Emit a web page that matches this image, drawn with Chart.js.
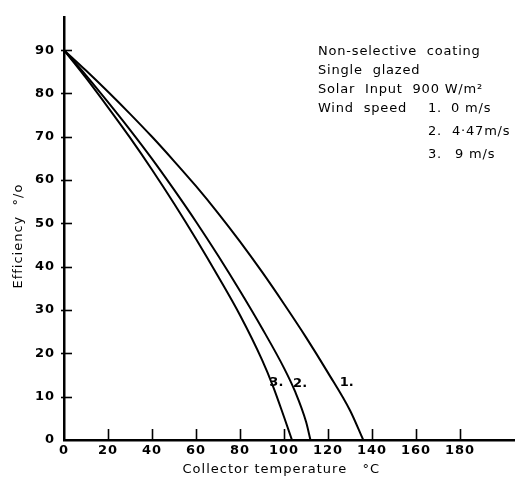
<!DOCTYPE html>
<html>
<head>
<meta charset="utf-8">
<script src="https://cdn.jsdelivr.net/npm/chart.js@4/dist/chart.umd.min.js"></script>
<style>
  html, body { margin: 0; padding: 0; background: #fff; }
  #wrap { width: 515px; height: 477px; }
</style>
</head>
<body>
<div id="wrap"><canvas id="effChart" width="515" height="477"></canvas></div>
<script>
// Efficiency vs collector temperature
const temp1 = [0, 10, 20, 30, 40, 50, 60, 70, 80, 90, 100, 110, 120, 130, 136];
const eff1  = [90, 85.3, 80.4, 75.3, 70, 64.4, 58.6, 52.4, 45.8, 38.8, 31.4, 23.7, 15.5, 6.8, 0];

const temp2 = [0, 10, 20, 30, 40, 50, 60, 70, 80, 90, 100, 105, 110, 112];
const eff2  = [90, 84.2, 78, 71.6, 64.9, 57.8, 50.4, 42.6, 34.4, 25.8, 16.6, 11.2, 4.2, 0];

const temp3 = [0, 10, 20, 30, 40, 50, 60, 70, 80, 90, 95, 100, 103.6];
const eff3  = [90, 83.6, 76.8, 69.8, 62.4, 54.6, 46.4, 37.8, 28.8, 18.5, 12.4, 5.3, 0];

const xTicks = [0, 20, 40, 60, 80, 100, 120, 140, 160, 180];
const yTicks = [0, 10, 20, 30, 40, 50, 60, 70, 80, 90];

// curve numbers written beside the lines
const curveLabels = ['3.', '2.', '1.'];
const curveLabelX = [96.5, 107.3, 128.5];
const curveLabelY = [13.2, 13.0, 13.2];

const noteLines = [
  'Non-selective  coating',
  'Single  glazed',
  'Solar  Input  900 W/m\u00B2',
  'Wind  speed'
];
const windNums = ['1.', '2.', '3.'];
const windVals = ['0 m/s', '4\u00B747m/s', '9 m/s'];

const toPoints = (xs, ys) => xs.map((x, i) => ({ x: x, y: ys[i] }));

const lineStyle = {
  borderColor: '#000',
  borderWidth: 2,
  pointRadius: 0,
  fill: false,
  showLine: true,
  cubicInterpolationMode: 'monotone'
};

const FONT = '"DejaVu Sans", sans-serif';

// wider letter spacing, like the lettering stencil in the original
const spacing = {
  id: 'spacing',
  beforeDraw(chart) {
    chart.ctx.letterSpacing = '1px';
  }
};

// ticks pointing into the plot, plus the text block and curve numbers
const decorations = {
  id: 'decorations',
  afterDraw(chart) {
    const ctx = chart.ctx;
    const xs = chart.scales.x;
    const ys = chart.scales.y;
    const area = chart.chartArea;

    ctx.save();
    ctx.strokeStyle = '#000';
    ctx.lineWidth = 1.6;
    yTicks.slice(1).forEach(v => {
      const py = Math.round(ys.getPixelForValue(v)) + 0.5;
      ctx.beginPath();
      ctx.moveTo(area.left - 3, py);
      ctx.lineTo(area.left + 8, py);
      ctx.stroke();
    });
    xTicks.slice(1).forEach(v => {
      const px = Math.round(xs.getPixelForValue(v)) + 0.5;
      ctx.beginPath();
      ctx.moveTo(px, area.bottom);
      ctx.lineTo(px, area.bottom - 11);
      ctx.stroke();
    });

    ctx.fillStyle = '#000';
    ctx.font = 'bold 13px ' + FONT;
    ctx.letterSpacing = '0px';
    ctx.textBaseline = 'middle';
    ctx.textAlign = 'center';
    curveLabels.forEach((t, i) => {
      ctx.fillText(t, xs.getPixelForValue(curveLabelX[i]), ys.getPixelForValue(curveLabelY[i]));
    });

    ctx.textAlign = 'left';
    ctx.font = '13px ' + FONT;
    ctx.letterSpacing = '0.8px';
    const noteY = [52, 71, 90, 109];
    noteLines.forEach((t, i) => ctx.fillText(t, 318, noteY[i]));
    const windY = [109, 132, 155];
    const windValX = [451, 452, 455];
    windNums.forEach((t, i) => {
      ctx.fillText(t, 428, windY[i]);
      ctx.fillText(windVals[i], windValX[i], windY[i]);
    });
    ctx.restore();
  }
};

new Chart(document.getElementById('effChart'), {
  type: 'scatter',
  data: {
    datasets: [
      { label: '1. 0 m/s', data: toPoints(temp1, eff1), ...lineStyle },
      { label: '2. 4.47 m/s', data: toPoints(temp2, eff2), ...lineStyle },
      { label: '3. 9 m/s', data: toPoints(temp3, eff3), ...lineStyle }
    ]
  },
  options: {
    responsive: false,
    animation: false,
    layout: { padding: { top: 8, right: 1, left: 0, bottom: 0 } },
    plugins: {
      legend: { display: false },
      tooltip: { enabled: false }
    },
    scales: {
      x: {
        type: 'linear',
        min: 0,
        max: 204.5,
        afterBuildTicks: s => { s.ticks = xTicks.map(v => ({ value: v })); },
        afterFit: s => { s.height = 37; },
        grid: { display: true, drawOnChartArea: false, drawTicks: false },
        border: { display: true, color: '#000', width: 2.5 },
        ticks: {
          color: '#000',
          padding: 3,
          maxRotation: 0,
          autoSkip: false,
          font: { family: FONT, size: 13, weight: 'bold' }
        },
        title: {
          display: true,
          text: 'Collector temperature   \u00B0C   ',
          color: '#000',
          padding: { top: 0, bottom: 0 },
          font: { family: FONT, size: 13 }
        }
      },
      y: {
        type: 'linear',
        min: 0,
        max: 97.7,
        afterBuildTicks: s => { s.ticks = yTicks.map(v => ({ value: v })); },
        afterFit: s => { s.width = 64; },
        grid: { display: true, drawOnChartArea: false, drawTicks: false },
        border: { display: true, color: '#000', width: 2.5 },
        ticks: {
          color: '#000',
          padding: 9,
          autoSkip: false,
          font: { family: FONT, size: 13, weight: 'bold' }
        },
        title: {
          display: true,
          text: 'Efficiency  \u00B0/o   ',
          color: '#000',
          padding: { top: 11, bottom: 0 },
          font: { family: FONT, size: 13 }
        }
      }
    }
  },
  plugins: [spacing, decorations]
});
</script>
</body>
</html>
